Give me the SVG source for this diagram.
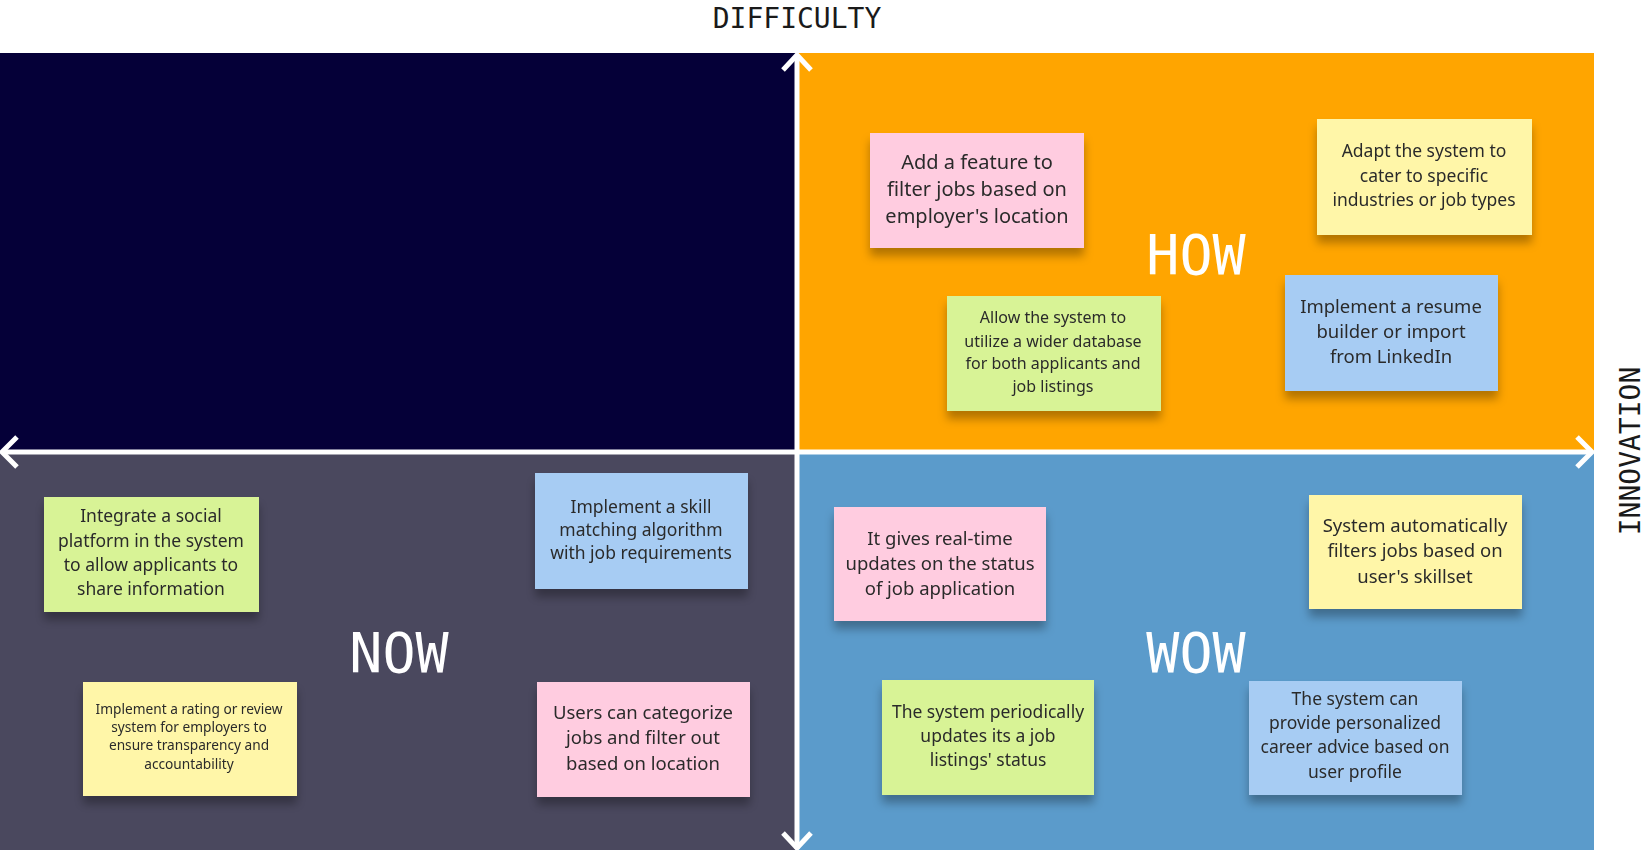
<svg xmlns="http://www.w3.org/2000/svg" width="1647" height="850" viewBox="0 0 1647 850">
<style>
.ax{font-family:"DejaVu Sans Mono","Liberation Mono",monospace;font-size:28px;fill:#1a1a1a;text-anchor:middle}
.ql{font-family:"DejaVu Sans Mono","Liberation Mono",monospace;font-size:55px;fill:#ffffff;text-anchor:middle}
.nt{font-family:"Noto Sans","Open Sans",sans-serif;fill:#2b2b2b;text-anchor:middle}
.axis{stroke:#ffffff;stroke-width:5;fill:none;stroke-linecap:butt}
.pink{fill:#ffcce0}.yellow{fill:#fff6a8}.green{fill:#d8f396}.blue{fill:#a7ccf3}
</style>
<defs>
<filter id="sh" x="-20%" y="-20%" width="140%" height="160%">
<feDropShadow dx="0" dy="8" stdDeviation="5" flood-color="#000" flood-opacity="0.3"/>
</filter>
</defs>
<rect width="1647" height="850" fill="#ffffff"/>
<g id="quadrants">
<rect x="0" y="53" width="797" height="399" fill="#050038"/>
<rect x="797" y="53" width="797" height="399" fill="#ffa500"/>
<rect x="0" y="452" width="797" height="398" fill="#4a485e"/>
<rect x="797" y="452" width="797" height="398" fill="#5b9bcb"/>
</g>
<g id="connectors">
<line class="axis" x1="797" y1="55" x2="797" y2="849"/>
<line class="axis" x1="2" y1="452" x2="1592" y2="452"/>
<polyline class="axis" points="783,70 797,55 811,70"/>
<polyline class="axis" points="783,833 797,848 811,833"/>
<polyline class="axis" points="17,437 2,452 17,467"/>
<polyline class="axis" points="1577,437 1592,452 1577,467"/>
</g>
<g id="labels">
<text class="ax" x="797" y="28">DIFFICULTY</text>
<text class="ax" transform="translate(1640,451) rotate(-90)">INNOVATION</text>
<text class="ql" x="1196" y="274">HOW</text>
<text class="ql" x="399" y="672">NOW</text>
<text class="ql" x="1196" y="672">WOW</text>
</g>
<g id="note1" filter="url(#sh)">
<rect class="pink" x="870" y="133" width="214" height="115"/>
<text class="nt" font-size="20" x="977"><tspan x="977" y="169">Add a feature to</tspan><tspan x="977" y="196">filter jobs based on</tspan><tspan x="977" y="223">employer's location</tspan></text>
</g>
<g id="note2" filter="url(#sh)">
<rect class="yellow" x="1317" y="119" width="215" height="116"/>
<text class="nt" font-size="17.5" x="1424"><tspan x="1424" y="157">Adapt the system to</tspan><tspan x="1424" y="182">cater to specific</tspan><tspan x="1424" y="206">industries or job types</tspan></text>
</g>
<g id="note3" filter="url(#sh)">
<rect class="green" x="947" y="296" width="214" height="115"/>
<text class="nt" font-size="16" x="1053"><tspan x="1053" y="323">Allow the system to</tspan><tspan x="1053" y="347">utilize a wider database</tspan><tspan x="1053" y="369">for both applicants and</tspan><tspan x="1053" y="392">job listings</tspan></text>
</g>
<g id="note4" filter="url(#sh)">
<rect class="blue" x="1285" y="275" width="213" height="116"/>
<text class="nt" font-size="18.5" x="1391"><tspan x="1391" y="313">Implement a resume</tspan><tspan x="1391" y="338">builder or import</tspan><tspan x="1391" y="363">from LinkedIn</tspan></text>
</g>
<g id="note5" filter="url(#sh)">
<rect class="green" x="44" y="497" width="215" height="115"/>
<text class="nt" font-size="17.5" x="151"><tspan x="151" y="522">Integrate a social</tspan><tspan x="151" y="547">platform in the system</tspan><tspan x="151" y="571">to allow applicants to</tspan><tspan x="151" y="595">share information</tspan></text>
</g>
<g id="note6" filter="url(#sh)">
<rect class="blue" x="535" y="473" width="213" height="116"/>
<text class="nt" font-size="17.5" x="641"><tspan x="641" y="513">Implement a skill</tspan><tspan x="641" y="536">matching algorithm</tspan><tspan x="641" y="559">with job requirements</tspan></text>
</g>
<g id="note7" filter="url(#sh)">
<rect class="yellow" x="83" y="682" width="214" height="114"/>
<text class="nt" font-size="13.7" x="189"><tspan x="189" y="714">Implement a rating or review</tspan><tspan x="189" y="732">system for employers to</tspan><tspan x="189" y="750">ensure transparency and</tspan><tspan x="189" y="769">accountability</tspan></text>
</g>
<g id="note8" filter="url(#sh)">
<rect class="pink" x="537" y="682" width="213" height="115"/>
<text class="nt" font-size="18.5" x="643"><tspan x="643" y="719">Users can categorize</tspan><tspan x="643" y="744">jobs and filter out</tspan><tspan x="643" y="770">based on location</tspan></text>
</g>
<g id="note9" filter="url(#sh)">
<rect class="pink" x="834" y="507" width="212" height="114"/>
<text class="nt" font-size="18.5" x="940"><tspan x="940" y="545">It gives real-time</tspan><tspan x="940" y="570">updates on the status</tspan><tspan x="940" y="595">of job application</tspan></text>
</g>
<g id="note10" filter="url(#sh)">
<rect class="yellow" x="1309" y="495" width="213" height="114"/>
<text class="nt" font-size="18.5" x="1415"><tspan x="1415" y="532">System automatically</tspan><tspan x="1415" y="557">filters jobs based on</tspan><tspan x="1415" y="583">user's skillset</tspan></text>
</g>
<g id="note11" filter="url(#sh)">
<rect class="green" x="882" y="680" width="212" height="115"/>
<text class="nt" font-size="17.5" x="988"><tspan x="988" y="718">The system periodically</tspan><tspan x="988" y="742">updates its a job</tspan><tspan x="988" y="766">listings' status</tspan></text>
</g>
<g id="note12" filter="url(#sh)">
<rect class="blue" x="1249" y="681" width="213" height="114"/>
<text class="nt" font-size="17.5" x="1355"><tspan x="1355" y="705">The system can</tspan><tspan x="1355" y="729">provide personalized</tspan><tspan x="1355" y="753">career advice based on</tspan><tspan x="1355" y="778">user profile</tspan></text>
</g>
</svg>
